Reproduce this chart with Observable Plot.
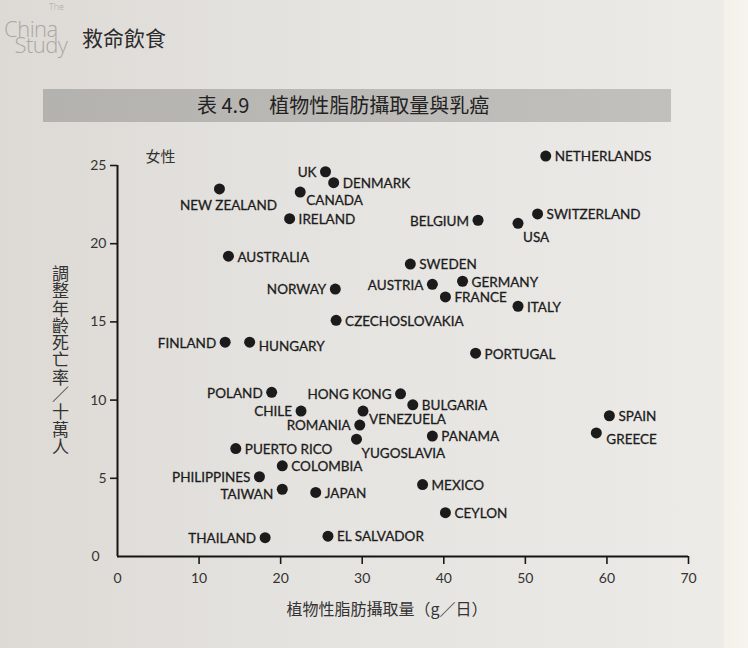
<!DOCTYPE html>
<html><head><meta charset="utf-8">
<script src="https://cdn.jsdelivr.net/npm/d3@7"></script>
<script src="https://cdn.jsdelivr.net/npm/@observablehq/plot@0.6"></script>
<style>
html,body{margin:0;padding:0;}
body{width:748px;height:648px;position:relative;overflow:hidden;
  background:linear-gradient(90deg,#dddad6 0%,#e5e3df 40%,#eae8e5 80%,#ecebe8 95%);
  font-family:"Noto Sans CJK TC","Noto Sans",sans-serif;}
.abs{position:absolute;}
#edge{left:724px;top:0;width:30px;height:648px;background:linear-gradient(90deg,#f4f0ea,#f7f3ee);}
.logo{color:#a9a7a4;font-family:"Open Sans",sans-serif;font-weight:300;}
#book{left:82px;top:27px;font-size:21px;color:#2b2b2b;line-height:1;}
#band{left:43px;top:89px;width:628px;height:33px;background:linear-gradient(90deg,#b4b2af,#bdbbb8 60%,#c2c0bd);}
#title{left:197px;top:91px;font-size:20px;color:#222;line-height:28px;white-space:pre;}
#ytitle{left:50px;top:265px;font-size:17px;color:#333;writing-mode:vertical-rl;text-orientation:upright;line-height:20px;letter-spacing:0.3px;}
#xtitle{left:0;width:774px;top:596px;text-align:center;font-size:16px;color:#333;}
#chart{left:0;top:130px;}
</style></head>
<body>
<div id="edge" class="abs"></div>
<div class="abs logo" style="left:49px;top:1px;font-size:9px;line-height:12px;">The</div>
<div class="abs logo" style="left:4px;top:20px;font-size:22px;line-height:16px;letter-spacing:-0.5px;white-space:pre;">China
  Study</div>
<div id="book" class="abs">救命飲食</div>
<div id="band" class="abs"></div>
<div id="title" class="abs">表 4.9　植物性脂肪攝取量與乳癌</div>
<div id="ytitle" class="abs">調整年齡死亡率／十萬人</div>
<div id="chart" class="abs"></div>
<div id="xtitle" class="abs">植物性脂肪攝取量（g／日）</div>
<script>
const countries = ["UK","DENMARK","CANADA","NEW ZEALAND","IRELAND","AUSTRALIA","NORWAY","CZECHOSLOVAKIA","FINLAND","HUNGARY",
  "NETHERLANDS","SWITZERLAND","USA","BELGIUM","SWEDEN","AUSTRIA","GERMANY","FRANCE","ITALY","PORTUGAL",
  "POLAND","CHILE","HONG KONG","BULGARIA","VENEZUELA","ROMANIA","YUGOSLAVIA","PANAMA","PUERTO RICO","COLOMBIA",
  "PHILIPPINES","TAIWAN","JAPAN","MEXICO","CEYLON","THAILAND","EL SALVADOR","SPAIN","GREECE"];
const fatIntake = [25.5,26.5,22.4,12.5,21.1,13.6,26.7,26.8,13.2,16.2,
  52.5,51.5,49.1,44.2,35.9,38.6,42.3,40.2,49.1,43.9,
  18.9,22.5,34.7,36.2,30.1,29.7,29.3,38.6,14.5,20.2,
  17.4,20.2,24.3,37.4,40.2,18.1,25.8,60.3,58.7];
const mortality = [24.6,23.9,23.3,23.5,21.6,19.2,17.1,15.1,13.7,13.7,
  25.6,21.9,21.3,21.5,18.7,17.4,17.6,16.6,16.0,13.0,
  10.5,9.3,10.4,9.7,9.3,8.4,7.5,7.7,6.9,5.8,
  5.1,4.3,4.1,4.6,2.8,1.2,1.3,9.0,7.9];
const yTicks = [0,5,10,15,20,25];
const xTicks = [0,10,20,30,40,50,60,70];

// label placement (styling only)
const labelSide = {"UK":"W","CANADA":"SE","NEW ZEALAND":"S","NORWAY":"W","FINLAND":"W","USA":"SSE","BELGIUM":"W",
  "AUSTRIA":"W","POLAND":"W","CHILE":"W","HONG KONG":"W","VENEZUELA":"SE","ROMANIA":"W","YUGOSLAVIA":"SSE",
  "PHILIPPINES":"W","TAIWAN":"WSW","THAILAND":"W","GREECE":"ESE","HUNGARY":"EL"};
const sideStyle = {E:[9,1,"start"],EL:[9,4,"start"],W:[-9,1,"end"],WSW:[-9,5,"end"],SE:[6,9,"start"],SSE:[5,14,"start"],S:[9,17,"middle"],ESE:[10,7,"start"]};

const rows = countries.map((c,i)=>({country:c, fat:fatIntake[i], rate:mortality[i], side:labelSide[c]||"E"}));
const labelFont = "Lato, 'Open Sans', sans-serif";
const textMarks = Object.entries(sideStyle).map(([k,[dx,dy,anchor]]) =>
  Plot.text(rows.filter(d=>d.side===k), {x:"fat", y:"rate", text:"country", dx, dy, textAnchor:anchor,
    fontSize:13.5, fontFamily:labelFont, fill:"#1c1c1c", stroke:"#1c1c1c", strokeWidth:0.3}));

const chart = Plot.plot({
  width:748, height:518,
  marginLeft:117, marginRight:60, marginTop:35, marginBottom:92,
  style:{background:"transparent", fontFamily:labelFont, color:"#333"},
  x:{domain:[0,70]}, y:{domain:[0,25]},
  marks:[
    Plot.axisX({ticks:xTicks.filter(v=>v>0), tickSize:8, tickPadding:9, fontSize:14, label:null, strokeWidth:1.6, stroke:"#1a1a1a", fill:"#333"}),
    Plot.axisX({ticks:[0], tickSize:0, tickPadding:17, fontSize:14, label:null, fill:"#333"}),
    Plot.axisY({ticks:yTicks.filter(v=>v>0), tickSize:7, tickPadding:4, fontSize:14, label:null, strokeWidth:1.6, stroke:"#1a1a1a", fill:"#333"}),
    Plot.axisY({ticks:[0], tickSize:0, tickPadding:18, fontSize:14, label:null, fill:"#333"}),
    Plot.ruleX([0], {stroke:"#151515", strokeWidth:2}),
    Plot.ruleY([0], {stroke:"#151515", strokeWidth:2}),
    Plot.text(["女性"], {frameAnchor:"top-left", lineAnchor:"middle", textAnchor:"start", dx:28, dy:-8, fontSize:15,
      fontFamily:"'Noto Sans CJK TC', sans-serif", fill:"#333"}),
    Plot.dot(rows, {x:"fat", y:"rate", r:5.5, fill:"#1b1b1b", stroke:"none"}),
    ...textMarks
  ]
});
document.getElementById("chart").appendChild(chart);
</script>
</body></html>
